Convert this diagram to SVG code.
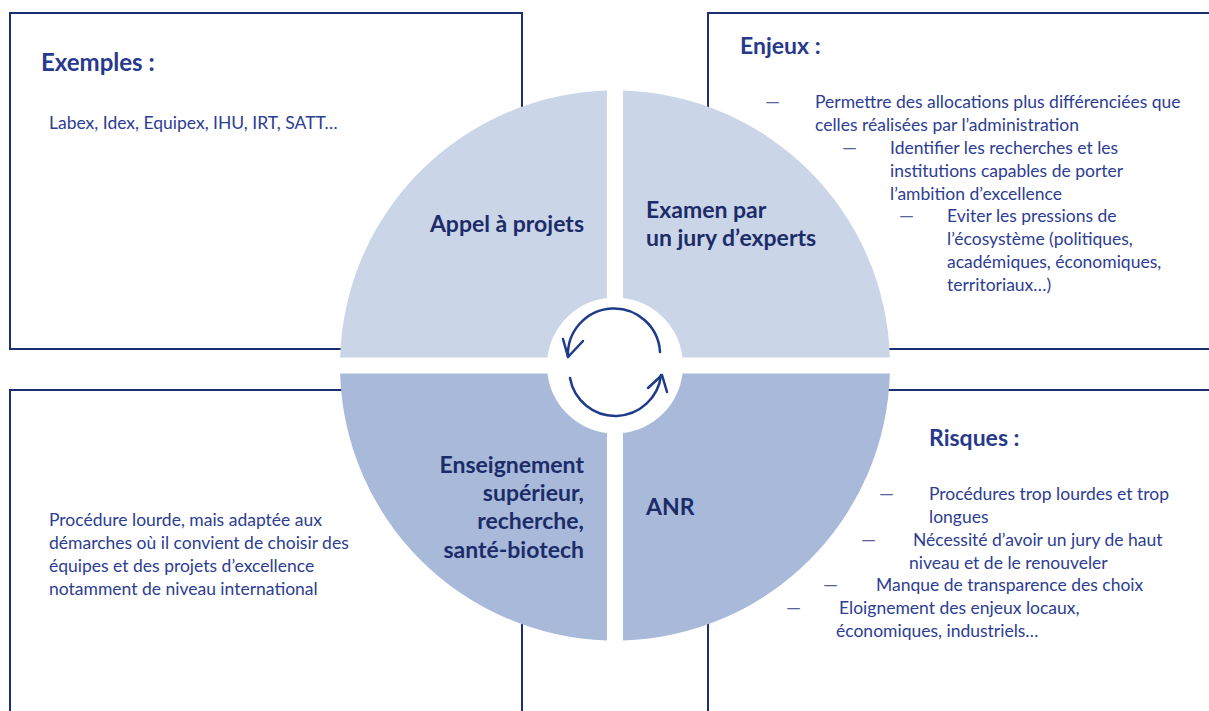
<svg xmlns="http://www.w3.org/2000/svg" width="1209" height="711" viewBox="0 0 1209 711">
  <style>
    .box { fill: #ffffff; stroke: #1c2f70; stroke-width: 2; }
    .qtop { fill: #cbd5e8; }
    .qbot { fill: #a8b9da; }
    .qlabel { font-family: Lato, "Liberation Sans", sans-serif; font-weight: bold; font-size: 23px; fill: #1b2c68; }
    .head { font-family: Lato, "Liberation Sans", sans-serif; font-weight: bold; font-size: 23px; fill: #27398b; }
    .body { font-family: Lato, "Liberation Sans", sans-serif; font-size: 17.5px; fill: #2c3d92; }
    .dash { font-family: Lato, "Liberation Sans", sans-serif; font-size: 19px; fill: #56629a; }
    .cyc { fill: none; stroke: #1e3a8a; stroke-width: 2.5; stroke-linecap: round; stroke-linejoin: round; }
  </style>

  <rect width="1209" height="711" fill="#ffffff"/>

  <!-- four framed panels -->
  <g id="panel-exemples">
    <rect class="box" x="10" y="13" width="512" height="336"/>
  </g>
  <g id="panel-enjeux">
    <rect class="box" x="708" y="13" width="560" height="336"/>
  </g>
  <g id="panel-procedure">
    <rect class="box" x="10" y="390" width="512" height="400"/>
  </g>
  <g id="panel-risques">
    <rect class="box" x="708" y="390" width="560" height="400"/>
  </g>

  <!-- cycle quadrants -->
  <g id="q-appel">
    <path class="qtop" d="M 340.12 357.5 A 275 275 0 0 1 607 90.62 L 607 297.97 A 68 68 0 0 0 547.47 357.5 Z"/>
    <text class="qlabel" x="584" y="232" text-anchor="end">Appel à projets</text>
  </g>
  <g id="q-examen">
    <path class="qtop" d="M 623 90.62 A 275 275 0 0 1 889.88 357.5 L 682.53 357.5 A 68 68 0 0 0 623 297.97 Z"/>
    <text class="qlabel" x="646" y="218">Examen par</text>
    <text class="qlabel" x="646" y="246">un jury d’experts</text>
  </g>
  <g id="q-anr">
    <path class="qbot" d="M 889.88 373.5 A 275 275 0 0 1 623 640.38 L 623 433.03 A 68 68 0 0 0 682.53 373.5 Z"/>
    <text class="qlabel" x="646" y="515">ANR</text>
  </g>
  <g id="q-enseignement">
    <path class="qbot" d="M 607 640.38 A 275 275 0 0 1 340.12 373.5 L 547.47 373.5 A 68 68 0 0 0 607 433.03 Z"/>
    <text class="qlabel" x="584" y="473" text-anchor="end">Enseignement</text>
    <text class="qlabel" x="584" y="501" text-anchor="end">supérieur,</text>
    <text class="qlabel" x="584" y="529" text-anchor="end">recherche,</text>
    <text class="qlabel" x="584" y="558" text-anchor="end">santé-biotech</text>
  </g>

  <!-- circular arrows in the hub -->
  <g id="connectors">
    <path class="cyc" d="M 660 352 A 46 46 0 0 0 568 357"/>
    <polyline class="cyc" points="563,339 568,357 583,341"/>
    <path class="cyc" d="M 570 378 A 46 46 0 0 0 661 375"/>
    <polyline class="cyc" points="648,388 662,375 667,392"/>
  </g>

  <!-- panel texts -->
  <g id="text-exemples">
    <text class="head" x="41" y="71" style="font-size:24px">Exemples :</text>
    <text class="body" x="49" y="129">Labex, Idex, Equipex, IHU, IRT, SATT…</text>
  </g>

  <g id="text-enjeux">
    <text class="head" x="740" y="54">Enjeux :</text>
    <text class="dash" x="765" y="108">—</text>
    <text class="body" x="815" y="108">Permettre des allocations plus différenciées que</text>
    <text class="body" x="815" y="131">celles réalisées par l’administration</text>
    <text class="dash" x="842" y="154">—</text>
    <text class="body" x="890" y="154">Identifier les recherches et les</text>
    <text class="body" x="890" y="177">institutions capables de porter</text>
    <text class="body" x="890" y="200">l’ambition d’excellence</text>
    <text class="dash" x="899" y="222">—</text>
    <text class="body" x="947" y="222">Eviter les pressions de</text>
    <text class="body" x="947" y="245">l’écosystème (politiques,</text>
    <text class="body" x="947" y="268">académiques, économiques,</text>
    <text class="body" x="947" y="291">territoriaux…)</text>
  </g>

  <g id="text-procedure">
    <text class="body" x="49" y="526">Procédure lourde, mais adaptée aux</text>
    <text class="body" x="49" y="549">démarches où il convient de choisir des</text>
    <text class="body" x="49" y="572">équipes et des projets d’excellence</text>
    <text class="body" x="49" y="595">notamment de niveau international</text>
  </g>

  <g id="text-risques">
    <text class="head" x="929" y="446">Risques :</text>
    <text class="dash" x="879" y="500">—</text>
    <text class="body" x="929" y="500">Procédures trop lourdes et trop</text>
    <text class="body" x="929" y="523">longues</text>
    <text class="dash" x="861" y="546">—</text>
    <text class="body" x="913" y="546">Nécessité d’avoir un jury de haut</text>
    <text class="body" x="909" y="569">niveau et de le renouveler</text>
    <text class="dash" x="823" y="591">—</text>
    <text class="body" x="876" y="591">Manque de transparence des choix</text>
    <text class="dash" x="786" y="614">—</text>
    <text class="body" x="839" y="614">Eloignement des enjeux locaux,</text>
    <text class="body" x="836" y="637">économiques, industriels…</text>
  </g>
</svg>
